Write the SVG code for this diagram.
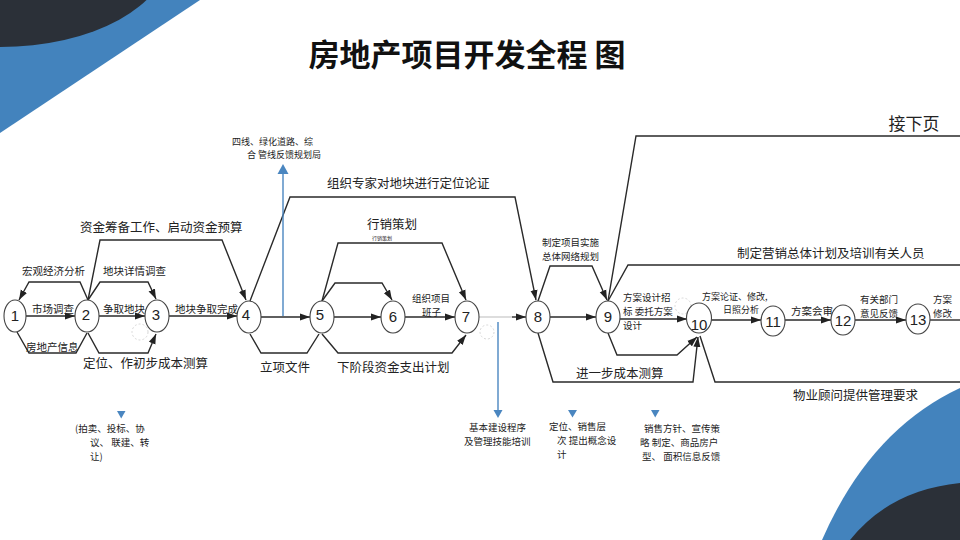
<svg xmlns="http://www.w3.org/2000/svg" width="960" height="540" viewBox="0 0 960 540">
<defs>
<marker id="ar" markerUnits="userSpaceOnUse" markerWidth="10" markerHeight="8" refX="10" refY="4" orient="auto"><path d="M0,0.5 L10,4 L0,7.5 z" fill="#222"/></marker>
<style>
text{font-family:"Noto Sans CJK SC","Noto Sans",sans-serif;fill:#222}
.s{font-size:10.5px}
.t{font-size:9.5px}
.m{font-size:12.5px}
.n{font-family:"Liberation Sans","Noto Sans",sans-serif;font-size:15px;text-anchor:middle}
.c{fill:none;stroke:#2a2a2a;stroke-width:1.4}
.a{marker-end:url(#ar)}
.g{fill:none;stroke:#bbb;stroke-width:1.2}
.node ellipse{fill:#fff;stroke:#444;stroke-width:1.1}
.blue{fill:#4a86c0}
.bl{stroke:#4a86c0;stroke-width:1.4;fill:none}
.ghost{fill:none;stroke:#d8d8d8;stroke-width:1;stroke-dasharray:2 2}
</style>
</defs>
<rect width="960" height="540" fill="#fff"/>
<!-- decorations -->
<polygon points="0,0 200,0 0,133" fill="#4383bd"/>
<ellipse cx="0" cy="-45" rx="168" ry="92" fill="#2b3038"/>
<path d="M822,540 Q870,430 960,388 L960,540 Z" fill="#4383bd"/>
<path d="M850,540 Q890,490 960,483 L960,540 Z" fill="#2b3038"/>
<text x="467" y="66" text-anchor="middle" style="font-size:31px;font-weight:bold;fill:#111">房地产项目开发全程 图</text>
<text x="914" y="130" text-anchor="middle" style="font-size:17px">接下页</text>
<!-- ghost circles -->
<circle class="ghost" cx="140" cy="332" r="8"/>
<circle class="ghost" cx="487" cy="332" r="7"/>
<circle class="ghost" cx="683" cy="306" r="8"/>
<g id="connectors">
<line class="c a" x1="26" y1="316" x2="75" y2="316"/>
<path class="c a" d="M88,300 L80,282 L29,282 L19,300"/>
<path class="c" d="M17,332 L29,353 L76,353 L87,333"/>
<path class="c a" d="M88,300 L100,240 L222,240 L246,300"/>
<path class="c a" d="M88,300 L100,282 L148,282 L156,299"/>
<path class="c a" d="M88,333 L99,353 L148,353 L156,334"/>
<line class="c a" x1="99" y1="316" x2="145" y2="316"/>
<line class="c a" x1="169" y1="316" x2="237" y2="316"/>
<path class="c a" d="M250,301 L290,197 L515,197 L536,300"/>
<path class="c" d="M250,334 L261,353 L307,353 L319,334"/>
<line class="c a" x1="261" y1="317" x2="310" y2="317"/>
<path class="c a" d="M322,301 L335,283 L382,283 L392,300"/>
<path class="c a" d="M322,301 L338,243 L442,243 L466,300"/>
<path class="c a" d="M322,334 L338,353 L452,353 L466,335"/>
<line class="c a" x1="334" y1="317" x2="381" y2="317"/>
<line class="c a" x1="405" y1="317" x2="455" y2="317"/>
<line class="g" x1="479" y1="317" x2="512" y2="317"/>
<line class="c a" x1="512" y1="317" x2="526" y2="317"/>
<line class="c a" x1="550" y1="317" x2="596" y2="317"/>
<path class="c a" d="M538,301 L550,266 L592,266 L607,300"/>
<path class="c" d="M608,301 L636,136 L960,136"/>
<path class="c" d="M608,301 L628,265 L960,265"/>
<path class="c a" d="M608,333 L617,355 L677,355 L697,337"/>
<path class="c a" d="M538,333 L553,382 L693,382 L698,337"/>
<path class="c" d="M700,336 L715,382 L960,382"/>
<line class="c a" x1="620" y1="319" x2="687" y2="319"/>
<line class="c a" x1="711" y1="320" x2="761" y2="320"/>
<line class="c a" x1="785" y1="320" x2="831" y2="320"/>
<line class="c a" x1="855" y1="320" x2="906" y2="320"/>
<line class="c" x1="930" y1="320" x2="960" y2="320"/>
<line class="bl" x1="283" y1="316" x2="283" y2="172"/>
<polygon class="blue" points="277.5,174 288.5,174 283,164"/>
<line class="bl" x1="498" y1="322" x2="498" y2="410"/>
<polygon class="blue" points="493.5,410 502.5,410 498,418"/>
<polygon class="blue" points="117,411 125.5,411 121.2,418.5"/>
<polygon class="blue" points="568,410 577,410 572.5,417.5"/>
<polygon class="blue" points="651,410 659.5,410 655.2,417.5"/>
</g>
<!-- nodes -->
<g id="n1" class="node"><ellipse cx="15" cy="316" rx="11" ry="16"/><text class="n" x="15" y="321">1</text></g>
<g id="n2" class="node"><ellipse cx="87" cy="316" rx="12" ry="16"/><text class="n" x="86" y="320">2</text></g>
<g id="n3" class="node"><ellipse cx="157" cy="316" rx="12" ry="16"/><text class="n" x="156" y="320">3</text></g>
<g id="n4" class="node"><ellipse cx="249" cy="317" rx="12" ry="16"/><text class="n" x="246" y="320">4</text></g>
<g id="n5" class="node"><ellipse cx="322" cy="317" rx="12" ry="16"/><text class="n" x="320" y="320">5</text></g>
<g id="n6" class="node"><ellipse cx="393" cy="317" rx="12" ry="16"/><text class="n" x="393" y="322">6</text></g>
<g id="n7" class="node"><ellipse cx="467" cy="317" rx="12" ry="16"/><text class="n" x="466" y="322">7</text></g>
<g id="n8" class="node"><ellipse cx="538" cy="317" rx="12" ry="16"/><text class="n" x="538" y="322">8</text></g>
<g id="n9" class="node"><ellipse cx="608" cy="317" rx="12" ry="16"/><text class="n" x="608" y="322">9</text></g>
<g id="n10" class="node"><ellipse cx="699" cy="318" rx="12.5" ry="15"/><text class="n" x="699" y="330">10</text></g>
<g id="n11" class="node"><ellipse cx="773" cy="321" rx="12" ry="15"/><text class="n" x="773" y="327">11</text></g>
<g id="n12" class="node"><ellipse cx="843" cy="320" rx="12" ry="15"/><text class="n" x="843" y="326">12</text></g>
<g id="n13" class="node"><ellipse cx="918" cy="319" rx="12" ry="15"/><text class="n" x="918" y="325">13</text></g>
<!-- labels -->
<g id="labels">
<text class="s" x="22" y="275">宏观经济分析</text>
<text class="s" x="32" y="313">市场调查</text>
<text class="s" x="26" y="351">房地产信息</text>
<text class="m" x="80" y="232">资金筹备工作、启动资金预算</text>
<text class="s" x="103" y="275">地块详情调查</text>
<text class="s" x="103" y="313">争取地块</text>
<text class="s" x="175" y="313">地块争取完成</text>
<text class="m" x="83" y="368">定位、作初步成本测算</text>
<text class="t" x="232" y="145" style="font-size:9px">四线、绿化道路、综</text>
<text class="t" x="247" y="158" style="font-size:9px">合 管线反馈规划局</text>
<text class="m" x="327" y="188">组织专家对地块进行定位论证</text>
<text class="m" x="367" y="229">行销策划</text>
<text x="372" y="240" style="font-size:5px">行销策划</text>
<text class="t" x="412" y="302">组织项目</text>
<text class="t" x="422" y="316">班子</text>
<text class="m" x="260" y="372">立项文件</text>
<text class="m" x="337" y="372">下阶段资金支出计划</text>
<text class="t" x="542" y="246">制定项目实施</text>
<text class="t" x="542" y="260">总体网络规划</text>
<text class="t" x="623" y="301">方案设计招</text>
<text class="t" x="623" y="315">标 委托方案</text>
<text class="t" x="623" y="329">设计</text>
<text class="m" x="576" y="378">进一步成本测算</text>
<text class="m" x="737" y="258">制定营销总体计划及培训有关人员</text>
<text class="t" x="702" y="300" style="font-size:9px">方案论证、修改,</text>
<text class="t" x="723" y="313" style="font-size:9px">日照分析</text>
<text class="s" x="791" y="315">方案会审</text>
<text class="t" x="860" y="303">有关部门</text>
<text class="t" x="860" y="317">意见反馈</text>
<text class="t" x="933" y="303">方案</text>
<text class="t" x="933" y="317">修改</text>
<text class="m" x="793" y="400">物业顾问提供管理要求</text>
<text class="t" x="75" y="432">(拍卖、投标、协</text>
<text class="t" x="90" y="446">议、 联建、转</text>
<text class="t" x="90" y="460">让)</text>
<text class="t" x="469" y="431">基本建设程序</text>
<text class="t" x="464" y="445">及管理技能培训</text>
<text class="t" x="549" y="430">定位、销售层</text>
<text class="t" x="557" y="444">次 提出概念设</text>
<text class="t" x="557" y="458">计</text>
<text class="t" x="644" y="432">销售方针、宣传策</text>
<text class="t" x="640" y="446">略 制定、商品房户</text>
<text class="t" x="642" y="460">型、 面积信息反馈</text>
</g>
</svg>
